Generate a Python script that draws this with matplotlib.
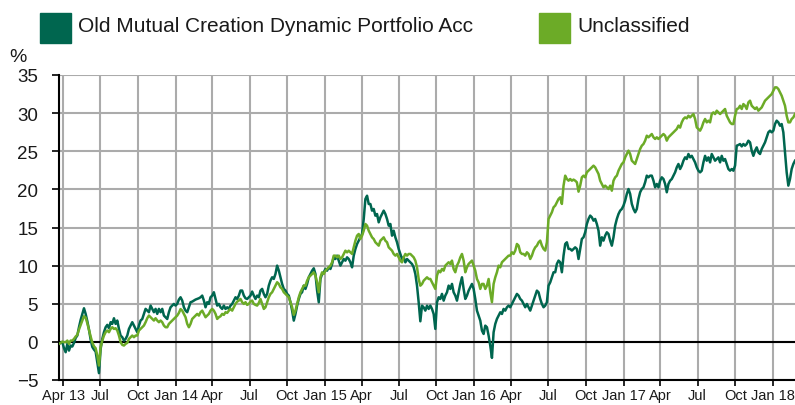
import matplotlib
matplotlib.use("Agg")
import matplotlib.pyplot as plt
from matplotlib.patches import Rectangle
import pandas as pd

plt.rcParams["font.family"] = ["Liberation Sans", "DejaVu Sans"]

# cumulative performance (%), sampled every ~4 days from late March 2013
fund_name = "Old Mutual Creation Dynamic Portfolio Acc"
sector_name = "Unclassified"

fund_pct = [
    -0.26, -0.13, -0.04, -0.83, -1.36, -0.26, -1.14, -0.48, -0.61, -0.13,
    0.52, 0.83, 1.92, 2.88, 3.67, 4.41, 3.67, 2.71, 1.62, 0.31,
    -0.66, -1.01, -1.27, -2.67, -4.1, -0.92, 0.39, 1.27, 1.92, 2.23,
    1.79, 2.58, 2.36, 3.1, 2.36, 2.8, 1.7, 0.83, 0.61, 0.17,
    0.39, 0.83, 1.7, 2.14, 2.58, 2.14, 1.7, 1.27, 2.14, 2.8,
    3.0, 3.67, 4.33, 4.11, 3.89, 4.76, 4.33, 3.89, 4.33, 3.67,
    4.33, 3.89, 4.33, 3.45, 3.23, 3.0, 3.89, 4.54, 4.76, 4.98,
    4.76, 4.98, 5.55,
    # 2014
    5.85, 5.42, 4.54, 4.1, 3.89, 4.54, 5.2, 5.28, 5.42, 5.55,
    5.63, 5.72, 5.85, 6.07, 5.42, 4.54, 5.2, 4.98, 5.85, 6.07,
    6.51, 5.63, 4.76, 4.98, 4.54, 4.32, 4.76, 4.32, 4.54, 4.32,
    4.76, 4.98, 5.42, 5.85, 5.63, 6.07, 6.73, 6.73, 6.07, 5.72,
    5.63, 5.85, 6.07, 6.6, 6.07, 5.63, 6.07, 5.85, 6.73, 6.95,
    6.29, 5.85, 6.29, 7.38, 8.04, 8.47, 8.26, 8.91, 10.0, 9.35,
    8.47, 7.6, 6.95, 6.73, 6.29, 6.07, 5.2, 4.1, 2.79, 3.67,
    4.76, 5.63, 6.29, 6.51, 7.38,
    # 2015
    6.94, 7.59, 8.47, 8.9, 9.34, 9.65, 8.9, 6.72, 5.19, 8.25,
    8.9, 9.12, 9.56, 9.34, 9.78, 9.56, 10.21, 11.09, 10.87, 11.31,
    10.65, 10.0, 10.43, 10.87, 10.65, 11.09, 10.87, 10.43, 9.78, 11.31,
    12.18, 12.84, 13.27, 13.71, 14.15, 16.11, 18.74, 19.17, 18.08, 18.08,
    17.21, 17.43, 16.55, 16.77, 15.68, 16.33, 16.77, 17.21, 16.77, 16.11,
    15.24, 15.46, 13.93, 14.58, 13.71, 13.06, 12.18, 11.53, 10.87, 11.09,
    10.43, 10.87, 10.65, 10.43, 10.21, 9.78, 8.9, 7.37, 5.19, 2.7,
    4.75, 4.53, 4.1, 4.75, 4.32,
    # late 2015 - mid 2016
    4.76, 4.32, 3.66, 1.7, 5.19, 5.85, 5.63, 6.29, 5.41, 6.07,
    6.5, 7.38, 6.94, 7.6, 6.5, 6.07, 5.41, 6.5, 7.6, 8.47,
    6.94, 5.63, 6.07, 6.72, 7.16, 7.6, 6.94, 5.63, 4.1, 3.45,
    2.79, 1.48, 1.04, 2.13, 1.92, 0.82, -0.49, -2.1, 1.26, 2.35,
    3.01, 3.45, 3.88, 3.66, 4.32, 4.1, 4.54, 4.76, 4.54, 4.97,
    5.41, 5.85, 6.29, 6.07, 5.63, 5.41, 4.97, 4.54, 4.97, 4.54,
    4.1, 4.76, 5.41, 6.07, 6.72, 6.5, 5.63, 4.97, 4.54, 4.76,
    5.19, 7.38, 7.81, 8.47, 9.13,
    # mid 2016 - mid 2017
    9.13, 10.22, 10.66, 10.44, 9.13, 11.31, 12.84, 13.06, 12.19, 12.19,
    11.97, 12.19, 12.4, 12.19, 10.87, 12.19, 13.5, 13.72, 14.37, 15.46,
    16.12, 16.56, 16.34, 15.9, 16.12, 15.46, 14.59, 12.62, 13.72, 13.28,
    13.93, 14.37, 14.15, 13.28, 12.62, 13.72, 15.25, 16.12, 16.77, 17.21,
    17.43, 17.87, 18.52, 19.4, 20.05, 19.4, 18.09, 17.43, 16.99, 17.43,
    18.74, 19.62, 20.05, 20.27, 20.93, 21.8, 21.58, 21.8, 21.8, 21.14,
    20.27, 20.71, 20.27, 21.14, 21.58, 21.36, 20.71, 19.62, 20.71, 21.14,
    21.36, 21.8, 22.24, 22.89, 23.33,
    # mid 2017 - Feb 2018
    22.67, 23.11, 23.76, 24.2, 23.98, 24.64, 24.2, 24.4, 23.98, 23.54,
    22.89, 22.45, 22.23, 22.45, 23.54, 24.4, 23.76, 24.2, 23.54, 24.64,
    24.2, 23.76, 23.98, 24.2, 23.54, 24.4, 23.76, 23.98, 23.33, 22.67,
    22.45, 22.67, 22.45, 23.11, 25.73, 25.82, 25.95, 25.64, 25.95, 25.73,
    25.95, 26.38, 26.17, 25.07, 24.4, 25.07, 25.51, 24.86, 24.64, 25.29,
    25.73, 26.17, 26.82, 27.48, 27.7, 27.48, 27.7, 28.57, 29.01, 28.79,
    28.35, 28.57, 27.48, 24.86, 22.23, 20.49, 21.36, 22.67, 23.33, 23.76,
]

sector_pct = [
    -0.26, -0.13, 0.04, -0.04, -0.04, 0.17, -0.26, 0.17, 0.17, 0.39,
    0.7, 0.92, 1.62, 2.23, 2.8, 3.36, 3.19, 2.45, 1.57, 0.7,
    -0.09, -0.57, -0.83, -1.79, -3.1, -0.7, 0.17, 0.83, 1.27, 1.49,
    1.27, 1.7, 1.92, 1.7, 1.79, 1.49, 0.83, -0.04, -0.39, -0.48,
    -0.26, -0.13, 0.39, 0.61, 0.83, 0.61, 0.83, 0.83, 1.49, 1.7,
    1.92, 2.14, 2.58, 3.1, 3.45, 3.23, 3.0, 2.8, 3.1, 2.8,
    2.58, 2.8, 2.58, 2.14, 1.92, 1.92, 2.36, 2.58, 2.8, 3.0,
    3.23, 3.45, 3.8,
    # 2014
    4.3, 4.1, 3.67, 3.23, 2.36, 1.92, 2.36, 3.01, 3.23, 3.45,
    3.67, 3.45, 3.89, 4.1, 3.67, 3.23, 3.45, 3.67, 4.1, 4.32,
    4.1, 3.67, 3.01, 3.23, 3.36, 3.67, 3.54, 3.89, 3.8, 4.1,
    4.32, 4.1, 4.54, 4.98, 5.28, 5.42, 5.63, 5.2, 4.98, 5.2,
    4.85, 4.98, 5.28, 5.42, 4.98, 4.85, 4.76, 5.11, 5.63, 4.98,
    4.32, 4.54, 5.2, 5.85, 6.29, 6.51, 6.95, 7.38, 7.82, 7.6,
    7.16, 6.95, 6.51, 6.29, 6.07, 5.85, 5.2, 4.54, 3.54, 4.1,
    4.98, 5.85, 6.51, 6.95, 7.38,
    # 2015
    7.37, 8.03, 8.47, 8.69, 8.9, 9.12, 8.69, 7.81, 6.5, 8.47,
    9.12, 8.9, 9.34, 9.56, 9.78, 10.0, 10.43, 11.31, 11.31, 11.09,
    11.31, 10.87, 11.09, 11.53, 11.96, 11.74, 11.96, 11.74, 11.53, 12.4,
    13.27, 13.93, 14.15, 13.49, 13.93, 14.58, 15.46, 15.24, 14.58, 14.15,
    13.71, 13.49, 13.06, 12.84, 12.62, 13.27, 13.49, 13.71, 13.27, 13.06,
    12.4, 12.18, 11.96, 11.53, 11.31, 11.53, 11.09, 10.65, 10.43, 11.09,
    11.53, 11.31, 11.53, 11.53, 11.31, 11.09, 10.65, 9.78, 8.25, 7.37,
    7.59, 8.03, 8.25, 8.47, 8.25,
    # late 2015 - mid 2016
    8.25, 7.81, 7.38, 6.94, 8.69, 9.34, 9.13, 9.56, 9.34, 10.0,
    10.22, 10.44, 10.22, 10.66, 9.56, 9.13, 10.0, 10.44, 11.09, 11.53,
    10.66, 9.13, 9.78, 10.22, 10.44, 10.66, 10.0, 9.34, 8.25, 7.81,
    6.94, 7.6, 7.6, 6.94, 7.38, 8.25, 6.5, 5.2, 7.6, 8.47,
    9.13, 10.0, 9.78, 10.44, 10.66, 10.87, 11.09, 11.31, 11.31, 11.75,
    11.53, 11.97, 12.84, 12.62, 11.75, 11.53, 11.53, 11.31, 11.75, 11.53,
    10.87, 11.31, 11.97, 12.4, 12.62, 13.06, 13.28, 12.62, 12.19, 11.97,
    13.06, 16.12, 16.56, 17.0, 17.65,
    # mid 2016 - mid 2017
    17.87, 18.3, 18.74, 18.96, 18.09, 20.49, 21.8, 21.36, 21.14, 21.36,
    21.14, 21.28, 21.14, 20.93, 19.7, 20.49, 21.58, 21.8, 21.58, 22.24,
    22.45, 22.67, 22.89, 23.11, 22.89, 22.45, 22.02, 21.14, 20.71, 20.27,
    20.49, 20.27, 20.05, 20.49, 19.83, 21.14, 21.58, 21.8, 22.45, 22.89,
    23.33, 23.55, 24.2, 24.64, 25.08, 24.64, 23.77, 23.55, 23.33, 23.99,
    24.64, 25.3, 25.73, 25.95, 26.39, 27.04, 26.83, 27.04, 27.26, 26.83,
    26.61, 26.83, 26.61, 26.83, 27.04, 27.26, 27.04, 26.39, 26.83, 27.04,
    27.26, 27.48, 27.7, 27.92, 28.36,
    # mid 2017 - Feb 2018
    28.1, 28.79, 29.23, 29.44, 29.31, 29.66, 29.44, 29.66, 29.88, 29.23,
    28.13, 27.91, 27.7, 28.13, 28.79, 29.23, 28.79, 29.01, 28.79, 29.88,
    30.1, 29.88, 30.32, 30.1, 29.88, 30.1, 30.32, 30.54, 29.66, 29.23,
    28.79, 28.57, 28.57, 29.66, 30.54, 30.62, 30.97, 30.54, 31.19, 30.97,
    30.54, 31.41, 31.63, 30.97, 30.75, 30.54, 30.75, 30.32, 30.54, 30.75,
    31.19, 31.63, 31.85, 32.07, 32.28, 32.5, 32.94, 33.38, 33.38, 33.16,
    32.72, 32.28, 31.63, 30.97, 29.66, 28.79, 28.79, 29.23, 29.44, 29.88,
]

assert len(fund_pct) == len(sector_pct)
dates = pd.date_range("2013-03-22", "2018-02-24", periods=len(fund_pct))

tick_dates = pd.date_range("2013-04-01", "2018-01-01", freq="QS")
tick_labels = ["Apr 13", "Jul", "Oct", "Jan 14", "Apr", "Jul", "Oct", "Jan 15",
               "Apr", "Jul", "Oct", "Jan 16", "Apr", "Jul", "Oct", "Jan 17",
               "Apr", "Jul", "Oct", "Jan 18"]
y_ticks = list(range(-5, 40, 5))

DARK = "#00664f"
LIGHT = "#6cab27"
GRID = "#ababab"
W, H = 795, 406

fig = plt.figure(figsize=(W / 100, H / 100), dpi=100)
ax = fig.add_axes([59 / W, 1 - 381 / H, 736 / W, 305 / H])

ax.plot(dates, fund_pct, color=DARK, lw=1.8, zorder=3)
ax.plot(dates, sector_pct, color=LIGHT, lw=1.8, zorder=3)
ax.axhline(0, color="black", lw=1.5, zorder=2.5)

ax.set_xlim(dates[0], dates[-1])
ax.set_ylim(-5, 35)
ax.set_yticks(y_ticks)
ax.set_xticks(tick_dates)
ax.set_xticklabels(tick_labels)
ax.grid(True, color=GRID, lw=1.5, zorder=1)
ax.set_axisbelow(True)

for side in ("top", "right"):
    ax.spines[side].set_visible(False)
for side in ("left", "bottom"):
    ax.spines[side].set_linewidth(1.5)
    ax.spines[side].set_color("black")

ax.tick_params(axis="y", length=5, width=1.2, pad=10, labelsize=13.5, labelcolor="#1a1a1a")
ax.tick_params(axis="x", length=4, width=1.2, pad=2, labelsize=10.5, labelcolor="#1a1a1a")

fig.text(18 / W, 1 - 62 / H, "%", ha="center", va="baseline", fontsize=14, color="#1a1a1a")

# legend squares + labels along the top
for x0, color, label in [(40, DARK, fund_name), (539, LIGHT, sector_name)]:
    fig.patches.append(Rectangle((x0 / W, 1 - 44 / H), 31 / W, 30 / H,
                                 transform=fig.transFigure, color=color))
    fig.text((x0 + 38) / W, 1 - 32 / H, label, ha="left", va="baseline",
             fontsize=15, color="#1a1a1a")

fig.savefig("out.png", dpi=100)
